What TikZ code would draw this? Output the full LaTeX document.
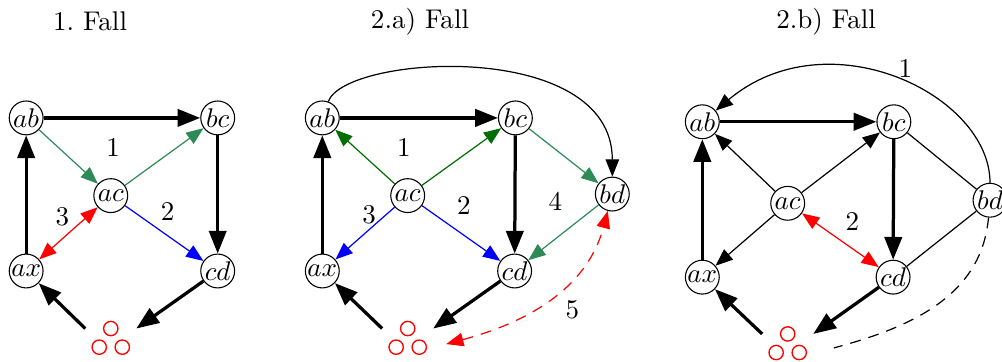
\documentclass[tikz,border=0pt]{standalone}
\usetikzlibrary{arrows.meta}
\definecolor{seagreen}{RGB}{46,139,87}
\definecolor{darkgreen}{RGB}{0,110,0}
\tikzset{
  vtx/.style={circle,draw,inner sep=0pt,minimum size=0.44cm},
  heavy/.style={line width=1.2pt,-{Triangle[length=8.4pt,width=6.4pt]}},
  light/.style={line width=0.45pt,-{Triangle[length=6.4pt,width=5pt]}},
  twoway/.style={line width=0.45pt,{Triangle[length=6.4pt,width=5pt]}-{Triangle[length=6.4pt,width=5pt]}},
  plain/.style={line width=0.45pt},
  longdash/.style={dash pattern=on 4pt off 3pt},
  trio/.style={inner sep=0pt,minimum width=0.65cm,minimum height=0.29cm}
}
\newcommand{\redtrio}[1]{%
  \draw[red,line width=0.5pt] (#1.north) circle (0.093)
    ([shift={(-0.15,-0.09)}]#1.center) circle (0.093)
    ([shift={(0.15,-0.09)}]#1.center) circle (0.093);}
\begin{document}
\begin{tikzpicture}
\useasboundingbox (0,0) rectangle (13.026,4.693);

% 1. Fall
\node at (1.17,4.41) {1.\ Fall};
\node[vtx] (ab1) at (0.34,3.16) {$ab$};
\node[vtx] (bc1) at (2.83,3.16) {$bc$};
\node[vtx] (ac1) at (1.44,2.15) {$ac$};
\node[vtx] (ax1) at (0.34,1.17) {$ax$};
\node[vtx] (cd1) at (2.83,1.17) {$cd$};
\node[trio] (r1) at (1.44,0.27) {};
\redtrio{r1}
\draw[heavy] (ab1) -- (bc1);
\draw[heavy] (bc1) -- (cd1);
\draw[heavy] (ax1) -- (ab1);
\draw[heavy] (cd1) -- (r1.north east);
\draw[heavy] (r1.north west) -- (ax1);
\draw[light,seagreen] (ab1) -- (ac1);
\draw[light,seagreen] (ac1) -- (bc1);
\draw[light,blue] (ac1) -- (cd1);
\draw[twoway,red] (ac1) -- (ax1);
\node (n11) at (1.47,2.77) {1};
\node (n12) at (2.18,1.94) {2};
\node (n13) at (0.81,1.87) {3};

% 2.a) Fall
\node at (5.46,4.41) {2.a) Fall};
\node[vtx] (ab2) at (4.19,3.16) {$ab$};
\node[vtx] (bc2) at (6.70,3.16) {$bc$};
\node[vtx] (ac2) at (5.30,2.15) {$ac$};
\node[vtx] (ax2) at (4.19,1.17) {$ax$};
\node[vtx] (cd2) at (6.69,1.17) {$cd$};
\node[vtx] (bd2) at (7.96,2.17) {$bd$};
\node[trio] (r2) at (5.30,0.27) {};
\coordinate (e2) at (5.80,0.22);
\redtrio{r2}
\draw[heavy] (ab2) -- (bc2);
\draw[heavy] (bc2) -- (cd2);
\draw[heavy] (ax2) -- (ab2);
\draw[heavy] (cd2) -- (r2.north east);
\draw[heavy] (r2.north west) -- (ax2);
\draw[light,darkgreen] (ac2) -- (ab2);
\draw[light,darkgreen] (ac2) -- (bc2);
\draw[light,blue] (ac2) -- (ax2);
\draw[light,blue] (ac2) -- (cd2);
\draw[light,seagreen] (bc2) -- (bd2);
\draw[light,seagreen] (bd2) -- (cd2);
\draw[light] (ab2) to[out=70,in=90,out distance=0.65cm,in distance=1.8cm] (bd2);
\draw[twoway,red,longdash] (e2) to[out=15,in=-105] (bd2);
\node (n21) at (5.25,2.77) {1};
\node (n22) at (6.03,2.02) {2};
\node (n23) at (4.80,1.90) {3};
\node (n24) at (7.22,2.07) {4};
\node (n25) at (7.44,0.66) {5};

% 2.b) Fall
\node at (10.74,4.41) {2.b) Fall};
\node[vtx] (ab3) at (9.13,3.11) {$ab$};
\node[vtx] (bc3) at (11.62,3.11) {$bc$};
\node[vtx] (ac3) at (10.24,2.05) {$ac$};
\node[vtx] (ax3) at (9.13,1.09) {$ax$};
\node[vtx] (cd3) at (11.61,1.09) {$cd$};
\node[vtx] (bd3) at (12.87,2.09) {$bd$};
\node[trio] (r3) at (10.24,0.20) {};
\coordinate (e3) at (10.84,0.17);
\redtrio{r3}
\draw[heavy] (ab3) -- (bc3);
\draw[heavy] (bc3) -- (cd3);
\draw[heavy] (ax3) -- (ab3);
\draw[heavy] (cd3) -- (r3.north east);
\draw[heavy] (r3.north west) -- (ax3);
\draw[light] (ac3) -- (ab3);
\draw[light] (ac3) -- (bc3);
\draw[light] (ac3) -- (ax3);
\draw[twoway,red] (ac3) -- (cd3);
\draw[plain] (bc3) -- (bd3);
\draw[plain] (cd3) -- (bd3);
\draw[light] (bd3) to[out=90,in=40,out distance=1.15cm,in distance=1.9cm] (ab3);
\draw[plain,longdash] (bd3) to[out=-95,in=15] (e3);
\node (n31) at (11.77,3.80) {1};
\node (n32) at (11.08,1.81) {2};
\end{tikzpicture}
\end{document}
